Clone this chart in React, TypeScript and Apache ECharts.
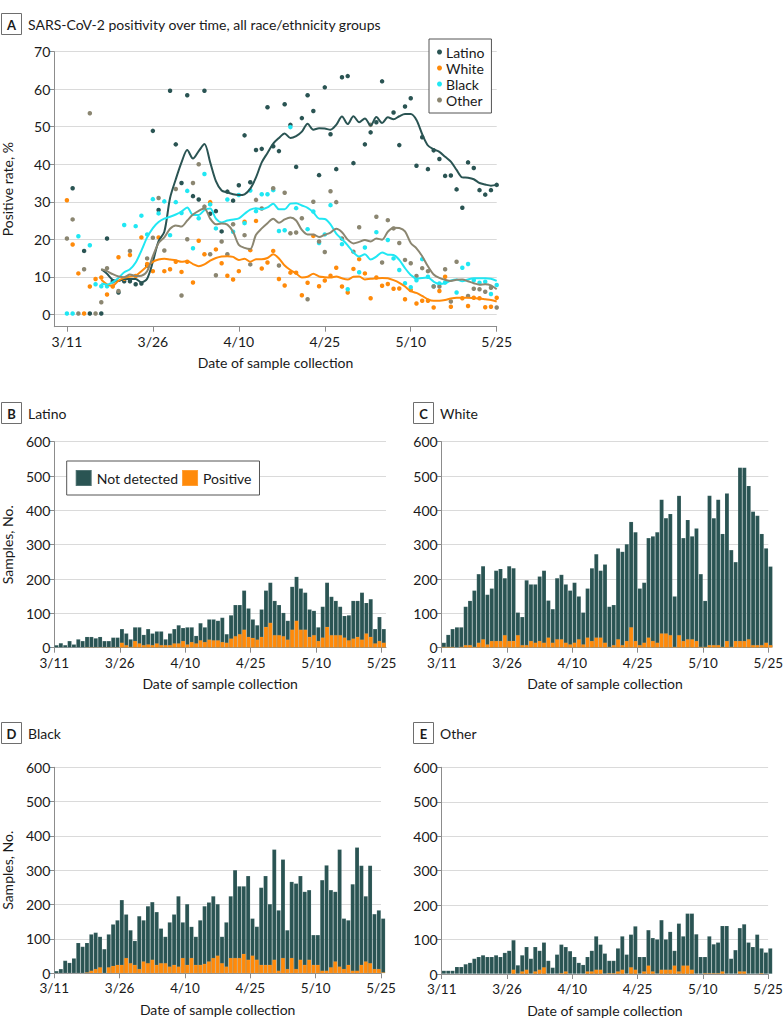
import React, { useEffect, useRef } from 'react';
import * as echarts from 'echarts';

// ---------- data ----------
const tickDays = [0, 15, 30, 45, 60, 75];
const tickLabels = ['3/11', '3/26', '4/10', '4/25', '5/10', '5/25'];
const rateTicks = [0, 10, 20, 30, 40, 50, 60, 70];
const groupNames = ['Latino', 'White', 'Black', 'Other'];
const barNames = ['Not detected', 'Positive'];
const xTitle = 'Date of sample collection';

// Panel A: daily positivity (%) by group, day 0 = 3/11
const latinoDots = [null,33.6,null,16.9,0.2,null,0.2,20.2,8.8,5.8, 8.8,8.8,8,8.2,13,48.9,27.8,null,59.6,45.3, 35,58.4,31.5,30.6,59.6,26.8,27.5,22.1,32.7,30.3, 34.4,47.7,35.2,43.8,44.1,55.2,44.8,43.5,56,50.5, 39.3,52.3,58.4,54.2,37.1,60.5,48,38.7,63.2,63.5, 40.3,null,45.3,48.5,51.2,62.1,null,53.8,45.1,55.4, 57.6,39.6,47.2,38.7,43.7,41.4,36.9,37,33.3,28.4, 40.5,39,33.1,31.9,33.1,34.5];
const whiteDots = [30.4,18.6,10.9,0.2,7.4,9.4,9.8,5.3,7.4,15.2, 9.5,15.8,10.2,20.5,13.4,11.5,20.5,11.5,12,14, 11.3,14,8.5,19.6,16,29.9,17.3,13.6,10.3,9.3, 11.5,24.7,17.1,24.9,12.2,13.8,16.9,9.4,7.7,11.1, 11.1,5.1,8.4,20.9,7.5,9,10.3,12.4,7.4,5.8, 12.1,14.7,10.9,4.3,9.8,7.6,8.1,6.8,6.9,4, 6.5,2.9,3.6,3.6,1.8,6.2,10,2,null,4.3, 2.2,4.4,4.3,1.9,2,4.4];
const blackDots = [0.2,0.2,20.8,null,18.4,8,7.5,7.5,null,null, 23.8,null,23.5,26.3,21.3,30.7,26.9,30.1,21.1,29.9, 27,32.9,17.6,25.6,37.4,29.3,22.9,null,30.6,22, 31.8,24.3,33,27.5,32,32,33.1,22.2,22.4,49.9, 28.3,null,22.7,27.4,19,21.3,29.1,null,18.7,6.7, null,11.2,17.8,null,21.9,null,19.8,14.9,11.8,8.3, 7.2,9.1,14.7,10,7.5,8.2,8.5,null,5.8,12.4, 13.4,9.1,8.4,8.7,5.4,7.8];
const otherDots = [20.2,25.3,0.2,12,53.6,0.2,3.2,12.3,null,6.2, null,16.9,null,null,14.9,20.4,31,17,null,33.4, 5,20,35,40,28.7,16,10.4,19.4,16,24, null,21.1,13.3,30.5,28.2,null,33.6,13,32.4,21.6, 21.8,25.6,4,30,19.4,16.6,32.8,29.9,20.2,null, 16.7,23.2,null,50.5,26,13.8,25.1,22.9,19,14.5, 13.6,10.2,12.3,11.5,7.4,7.4,12,3.4,14,null, 4.9,6.8,6.7,6,7.1,1.8];

// Panel A: smoothed trend lines (%)
const latinoTrend = [null,null,null,null,null,null, 12,10.8,9.2,8.9, 9.4,9.4,9.4,8.5,9.5,14,19.5,22,31,36, 40.5,43.8,41.5,43.5,45.4,40.5,35.5,33,32.5,32, 31.8,32,33.5,36.5,40.5,43,45.5,47,48.2,47, 47.5,48.7,50.8,49.2,49.6,49.5,49.2,50.5,52.7,50.7, 52.8,51.2,52.2,50.3,52.6,51,52.5,52,52.8,53.4, 53.4,51.8,48,45,44,43.3,42,40.7,38.5,36.5, 36.4,36,35,34.6,34.3,34.5];
const whiteTrend = [null,null,null,null,null,null, 9.2,8,7.6,9, 9.7,10.1,10.3,11.5,12.8,14,14.6,14.8,14.6,14.4, 14,14.2,13.4,12.8,13.3,14.3,15,15.4,15.5,15.3, 14.5,14.8,14,14.7,14.7,15,16,14.9,13,11.8, 10.9,9.8,10,10.8,10.1,9.9,9.8,10.1,9.6,9.3, 10,10.1,9.3,9.5,9.6,9.7,9.6,9.1,8.4,7.4, 6.2,5.7,4.9,4,3.6,3.6,3.8,4.2,4.4,4.4, 4.4,4.3,4.2,4,3.8,3.4];
const blackTrend = [null,null,null,null,null,null, 8.2,7.9,8.6,9.7, 11.2,12,13.8,17,20.5,23,24.6,25.5,26,26.6, 27.4,28.5,26.5,26.5,27.8,28.2,25.5,24.5,25,25.3, 25.6,26.8,27.9,28.3,28,28.5,29.5,28,28,29.5, 29.6,29,28.4,27.2,25.5,25.4,24,21.5,20,18.4, 16.5,15.4,16,14.6,15.4,16.5,15.9,15.8,14.5,12.3, 10.5,9.5,9.7,9.8,8.7,8.1,8.3,9,9.3,8.8, 9.3,9.6,9.6,9.6,9.5,8.9];
const otherTrend = [null,null,null,null,null,null, 12,11.5,10.7,10.1, 9.9,10.6,10.2,10.3,11.5,15.5,19,20.5,22.8,23.7, 23.4,25,26.6,27.6,28.2,25.5,24,24.2,23.9,22, 18.5,17.7,17.4,21.2,22.9,24.3,25.5,24.4,25.3,25.8, 25,22.5,21.3,21.3,20.6,21.2,21.8,22.8,21.9,19.9, 18.9,19.3,19.8,19.4,20.2,19.9,22,23.1,23,22.1, 19,17.6,15.5,12.8,10.6,9.7,9.2,8.9,9.2,9.3, 8.8,8.3,7.9,8,7.7,6.7];

// Panels B-E: daily samples (total) and positives
const latinoTotal = [8,14,8,20,10,25,20,32,32,28, 32,20,20,30,30,55,42,25,60,60, 38,55,42,48,48,25,42,55,66,58, 60,60,35,72,60,83,83,79,88,40, 95,125,125,167,115,83,66,112,167,190, 137,125,102,79,178,207,173,161,112,108, 60,120,190,149,137,120,93,95,137,137, 161,131,142,55,90,55];
const latinoPos = [0,0,0,0,0,0,0,2,2,2, 2,2,2,2,2,15,8,3,20,13, 8,10,8,13,8,8,8,13,13,20, 10,17,13,22,17,24,22,22,17,15, 27,34,40,53,32,29,24,32,61,73, 37,37,34,24,53,79,53,53,32,37, 20,30,61,37,37,37,30,22,27,32, 24,42,32,13,20,15];
const whiteTotal = [15,38,55,60,60,120,137,167,215,238, 155,173,225,230,203,238,232,103,90,197, 185,185,208,225,138,113,203,213,185,167, 190,150,103,173,232,273,225,243,120,125, 290,280,302,367,337,173,190,320,325,337, 432,378,390,150,443,320,373,325,348,215, 137,443,378,432,332,450,285,250,525,525, 472,397,385,332,290,237];
const whitePos = [3,3,3,0,3,8,8,3,15,25, 10,20,20,20,37,20,20,37,8,8, 20,15,20,15,30,15,25,25,15,10, 15,25,10,30,20,30,30,15,3,8, 25,8,20,60,20,8,15,30,20,15, 42,42,37,3,37,20,25,25,20,3, 3,8,8,8,3,20,3,20,20,20, 25,8,8,8,15,8];
const blackTotal = [7,13,37,31,44,89,78,89,114,119, 107,71,114,143,155,214,172,126,95,167, 155,196,208,179,131,107,149,172,225,149, 202,136,107,155,196,207,225,202,107,149, 225,301,254,254,284,160,136,250,284,202, 361,184,332,126,267,262,284,238,243,112, 112,272,315,243,238,361,160,155,260,367, 314,225,314,173,184,160];
const blackPos = [0,0,0,0,0,0,0,3,8,13, 18,0,18,22,25,25,45,30,25,13, 35,30,40,25,30,30,20,25,20,45, 25,45,25,25,28,35,45,52,30,20, 45,45,45,57,40,52,40,25,25,25, 40,8,45,13,45,13,40,25,40,25, 25,8,8,18,35,20,13,25,8,8, 25,35,30,13,13,3];
const otherTotal = [10,10,10,21,21,29,33,45,50,55, 50,50,55,50,62,68,99,26,55,79, 45,79,68,92,39,19,57,86,79,67, 50,33,27,50,68,110,86,60,39,39, 75,110,57,115,139,50,50,128,105,101, 157,101,123,68,147,110,176,176,116,50, 50,110,87,92,140,140,45,70,134,145, 92,79,115,75,63,75];
const otherPos = [0,0,0,0,0,0,0,0,0,0, 0,0,0,0,0,0,13,0,8,13, 0,8,13,20,0,0,0,3,8,0, 0,0,0,8,8,13,13,0,3,3, 8,13,0,20,13,0,8,25,8,0, 13,13,13,25,8,25,25,13,0,0, 3,3,3,3,8,0,0,0,8,8, 0,0,0,3,0,0];

// ---------- styles ----------
const FONT = 'Lato, "Open Sans", sans-serif';
const TXT = '#1a1a1a';
const AXIS = '#8c8c8c';
const GRIDC = '#dadada';
const C_LAT = '#2a5453';
const C_WHITE = '#ff8a0a';
const C_BLACK = '#20e7f3';
const C_OTHER = '#8b8671';
const groupColors = [C_LAT, C_WHITE, C_BLACK, C_OTHER];

const dateLabel = (v: number) => {
  const i = tickDays.indexOf(Math.round(v));
  return i >= 0 ? tickLabels[i] : '';
};

const lbl = { fontFamily: FONT, fontSize: 14, color: TXT };
const nameStyle = { fontFamily: FONT, fontSize: 14, color: TXT };
const axLine = { show: true, onZero: false, lineStyle: { color: AXIS, width: 1 } };
const axTick = { show: true, length: 5, lineStyle: { color: AXIS, width: 1 } };

// bar panels layout
const panels = [
  { left: 54.3, top: 441.7, width: 331.7, height: 206, max: 76, yName: 'Samples, No.' },
  { left: 441.7, top: 441.7, width: 326.6, height: 206, max: 75, yName: '' },
  { left: 54.3, top: 767.3, width: 326.7, height: 206, max: 75, yName: 'Samples, No.' },
  { left: 441.7, top: 767.3, width: 326.4, height: 206.7, max: 75, yName: '' },
];
const barTotals = [latinoTotal, whiteTotal, blackTotal, otherTotal];
const barPos = [latinoPos, whitePos, blackPos, otherPos];

function buildOption() {
  const grids: any[] = [{ left: 54.3, top: 51.7, width: 442.4, height: 275, outerBoundsMode: 'none', containLabel: false }];
  const xAxes: any[] = [{
    type: 'value', gridIndex: 0, min: -2.2, max: 75,
    axisLine: axLine, axisTick: { ...axTick, customValues: tickDays },
    axisLabel: { ...lbl, customValues: tickDays, formatter: dateLabel, margin: 8 },
    splitLine: { show: false },
    name: xTitle, nameLocation: 'middle', nameGap: 29, nameTextStyle: nameStyle,
  }];
  const yAxes: any[] = [{
    type: 'value', gridIndex: 0, min: -3.3, max: 70,
    axisLine: axLine, axisTick: { ...axTick, customValues: rateTicks },
    axisLabel: { ...lbl, customValues: rateTicks, margin: 4 },
    splitLine: { show: true, lineStyle: { color: GRIDC, width: 1 } },
    name: 'Positive rate, %', nameLocation: 'middle', nameGap: 40, nameRotate: 90,
    nameMoveOverlap: false, nameTextStyle: nameStyle,
  }];
  const series: any[] = [];
  const dotArrs = [latinoDots, whiteDots, blackDots, otherDots];
  const trendArrs = [latinoTrend, whiteTrend, blackTrend, otherTrend];
  dotArrs.forEach((arr, g) => {
    series.push({
      type: 'scatter', name: groupNames[g], xAxisIndex: 0, yAxisIndex: 0,
      symbolSize: 4.5, itemStyle: { color: groupColors[g], opacity: 1 },
      data: arr.map((v, d) => (v == null ? null : [d, v])).filter((p) => p !== null),
      z: 2, silent: true,
    });
  });
  trendArrs.forEach((arr, g) => {
    series.push({
      type: 'line', name: groupNames[g] + ' trend', xAxisIndex: 0, yAxisIndex: 0,
      showSymbol: false, smooth: 0.3, lineStyle: { color: groupColors[g], width: 2 },
      itemStyle: { color: groupColors[g] },
      data: arr.map((v, d) => (v == null ? null : [d, v])).filter((p) => p !== null),
      z: 3, silent: true,
    });
  });

  panels.forEach((p, k) => {
    const gi = k + 1;
    grids.push({ left: p.left, top: p.top, width: p.width, height: p.height, outerBoundsMode: 'none', containLabel: false });
    xAxes.push({
      type: 'value', gridIndex: gi, min: 0, max: p.max,
      axisLine: axLine, axisTick: { ...axTick, customValues: tickDays },
      axisLabel: { ...lbl, fontSize: 13.5, customValues: tickDays, formatter: dateLabel, margin: 8 },
      splitLine: { show: false },
      name: xTitle, nameLocation: 'middle', nameGap: 29, nameTextStyle: nameStyle,
    });
    yAxes.push({
      type: 'value', gridIndex: gi, min: 0, max: 600, interval: 100,
      axisLine: axLine, axisTick: axTick,
      axisLabel: { ...lbl, margin: 4 },
      splitLine: { show: true, lineStyle: { color: GRIDC, width: 1 } },
      name: p.yName, nameLocation: 'middle', nameGap: 40, nameRotate: 90,
      nameMoveOverlap: false, nameTextStyle: nameStyle,
    });
    const bw = p.width / p.max;
    const tot = barTotals[k];
    const pos = barPos[k];
    series.push({
      type: 'bar', name: 'Not detected', xAxisIndex: gi, yAxisIndex: gi,
      barWidth: bw, barGap: '-100%', clip: false, silent: true,
      itemStyle: { color: C_LAT, borderColor: 'rgba(255,255,255,0.18)', borderWidth: 0.5 },
      data: tot.map((v, d) => [d + 0.5, v]),
      z: 2,
    });
    series.push({
      type: 'bar', name: 'Positive', xAxisIndex: gi, yAxisIndex: gi,
      barWidth: bw, barGap: '-100%', clip: false, silent: true,
      itemStyle: { color: C_WHITE, borderColor: 'rgba(255,255,255,0.18)', borderWidth: 0.5 },
      data: pos.map((v, d) => [d + 0.5, v]),
      z: 3,
    });
  });

  const boxes = [
    { x: 1, y: 13, letter: 'A', title: 'SARS-CoV-2 positivity over time, all race/ethnicity groups' },
    { x: 1, y: 402, letter: 'B', title: 'Latino' },
    { x: 413, y: 402, letter: 'C', title: 'White' },
    { x: 1, y: 722, letter: 'D', title: 'Black' },
    { x: 413, y: 722, letter: 'E', title: 'Other' },
  ];
  const graphic: any[] = [];
  boxes.forEach((b) => {
    graphic.push({ type: 'rect', shape: { x: b.x + 0.5, y: b.y + 0.5, width: 20, height: 21 }, style: { fill: '#fff', stroke: '#6e6e6e', lineWidth: 1 }, silent: true });
    graphic.push({ type: 'text', x: b.x + 10.5, y: b.y + 11.5, style: { text: b.letter, fontFamily: FONT, fontSize: 13, fontWeight: 'bold', fill: TXT, align: 'center', verticalAlign: 'middle' }, silent: true });
    graphic.push({ type: 'text', x: b.x + 27, y: b.y + 11, style: { text: b.title, fontFamily: FONT, fontSize: 14, fill: TXT, align: 'left', verticalAlign: 'middle' }, silent: true });
  });

  return {
    animation: false,
    backgroundColor: '#ffffff',
    textStyle: { fontFamily: FONT },
    grid: grids,
    xAxis: xAxes,
    yAxis: yAxes,
    legend: [
      {
        left: 429, top: 39, orient: 'vertical', selectedMode: false,
        data: groupNames.map((n) => ({ name: n, icon: 'circle' })),
        itemWidth: 5, itemHeight: 5, itemGap: 0,
        padding: [5, 7, 5, 8], borderColor: '#555', borderWidth: 1, backgroundColor: '#fff',
        textStyle: { fontFamily: FONT, fontSize: 14, color: TXT, lineHeight: 16, padding: [0, 0, 0, -1] },
      },
      {
        left: 66.7, top: 461, orient: 'horizontal', selectedMode: false,
        data: barNames.map((n) => ({ name: n, icon: 'rect' })),
        itemWidth: 16, itemHeight: 16, itemGap: 3,
        padding: [8, 8, 8, 8], borderColor: '#555', borderWidth: 1, backgroundColor: '#fff',
        textStyle: { fontFamily: FONT, fontSize: 14, color: TXT },
      },
    ],
    graphic,
    series,
  };
}

export default function App() {
  const ref = useRef<HTMLDivElement>(null);
  useEffect(() => {
    if (!ref.current) return;
    const chart = echarts.init(ref.current, null, { renderer: 'svg' });
    chart.setOption(buildOption() as any);
    return () => chart.dispose();
  }, []);
  return (
    <div
      ref={ref}
      style={{ position: 'absolute', left: 0, top: 0, width: 783, height: 1029, background: '#fff' }}
    />
  );
}
